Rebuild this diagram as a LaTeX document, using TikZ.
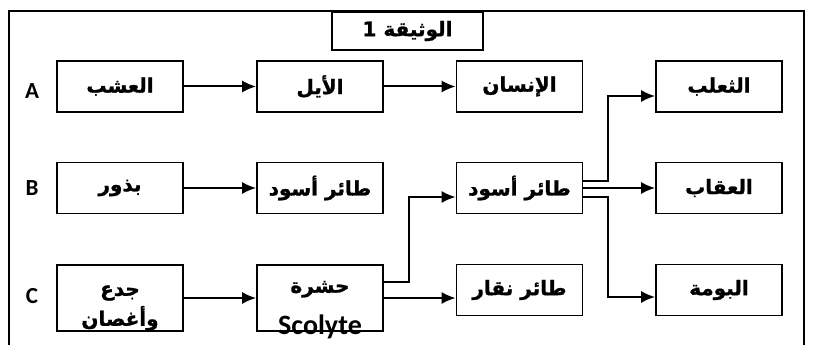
\documentclass[tikz,border=0pt]{standalone}
\usepackage{fontspec}
\setmainfont{Carlito}
\newfontfamily\latinb{Carlito}[UprightFont={* Bold}]
\newfontfamily\arabicfont[Script=Arabic,BoldFeatures={FakeBold=1.2}]{DejaVu Sans}
\TeXXeTstate=1
\usetikzlibrary{arrows.meta}

\newcommand{\ar}[1]{{\arabicfont\bfseries\beginR #1\endR}}

\begin{document}
\begin{tikzpicture}[x=1pt,y=-1pt,
    box/.style={draw,line width=1.6pt,minimum width=126pt,minimum height=51pt,inner sep=0pt,
        align=center,font=\fontsize{20}{24}\selectfont},
    txt/.style={inner sep=0pt,align=center,font=\fontsize{20}{30}\selectfont},
    arr/.style={line width=2pt,-{Latex[length=14pt,width=12pt]}},
    lbl/.style={font=\latinb\fontsize{23}{25}\selectfont}]
    \clip (0,0) rectangle (815,345);
    % frame and title
    \draw[line width=1.8pt] (9,360) -- (9,11) -- (804,11) -- (804,360);
    \node[box,minimum width=151pt,minimum height=38pt,fill=white] (titre) at (407.5,31) {\ar{الوثيقة 1}};
    % row labels
    \node[lbl] (la) at (32,91) {A};
    \node[lbl] (lb) at (32,188) {B};
    \node[lbl] (lc) at (32,296) {C};
    % row A
    \node[box] (ushb) at (120,86.5) {\ar{العشب}};
    \node[box] (ayl) at (320,86.5) {\ar{الأيل}};
    \node[box] (insan) at (519.5,86.5) {\ar{الإنسان}};
    \node[box] (thalab) at (719,86.5) {\ar{الثعلب}};
    % row B
    \node[box] (budhur) at (120,188) {\ar{بذور}};
    \node[box] (taira) at (320,188) {\ar{طائر أسود}};
    \node[box] (taira2) at (519.5,188) {\ar{طائر أسود}};
    \node[box] (uqab) at (719,188) {\ar{العقاب}};
    % row C (text sits low in the two tall boxes)
    \node[box,minimum height=66pt] (jida) at (120,298) {};
    \node[txt] (jidat) at (120,308) {\ar{جدع}\\\ar{وأغصان}};
    \node[box,minimum height=66pt] (hashara) at (320,298) {};
    \node[txt] (hasharat) at (320,310) {\ar{حشرة}\\[12pt]{\latinb\fontsize{28}{30}\selectfont Scolyte}};
    \node[box] (naqqar) at (519.5,290) {\ar{طائر نقار}};
    \node[box] (bumah) at (719,290) {\ar{البومة}};
    % arrows
    \draw[arr] (ushb) -- (ayl);
    \draw[arr] (ayl) -- (insan);
    \draw[arr] (budhur) -- (taira);
    \draw[arr] (jida) -- (hashara);
    \draw[arr] (hashara.east) -- (hashara.east -| naqqar.west);
    \draw[arr] ([yshift=16pt]hashara.east) -- ++(25,0) |- ([yshift=-9pt]taira2.west);
    \draw[arr] ([yshift=7pt]taira2.east) -- ++(25,0) |- ([yshift=-9.5pt]thalab.west);
    \draw[arr] (taira2.east) -- (uqab.west);
    \draw[arr] ([yshift=-9pt]taira2.east) -- ++(25,0) |- ([yshift=-7pt]bumah.west);
\end{tikzpicture}
\end{document}
